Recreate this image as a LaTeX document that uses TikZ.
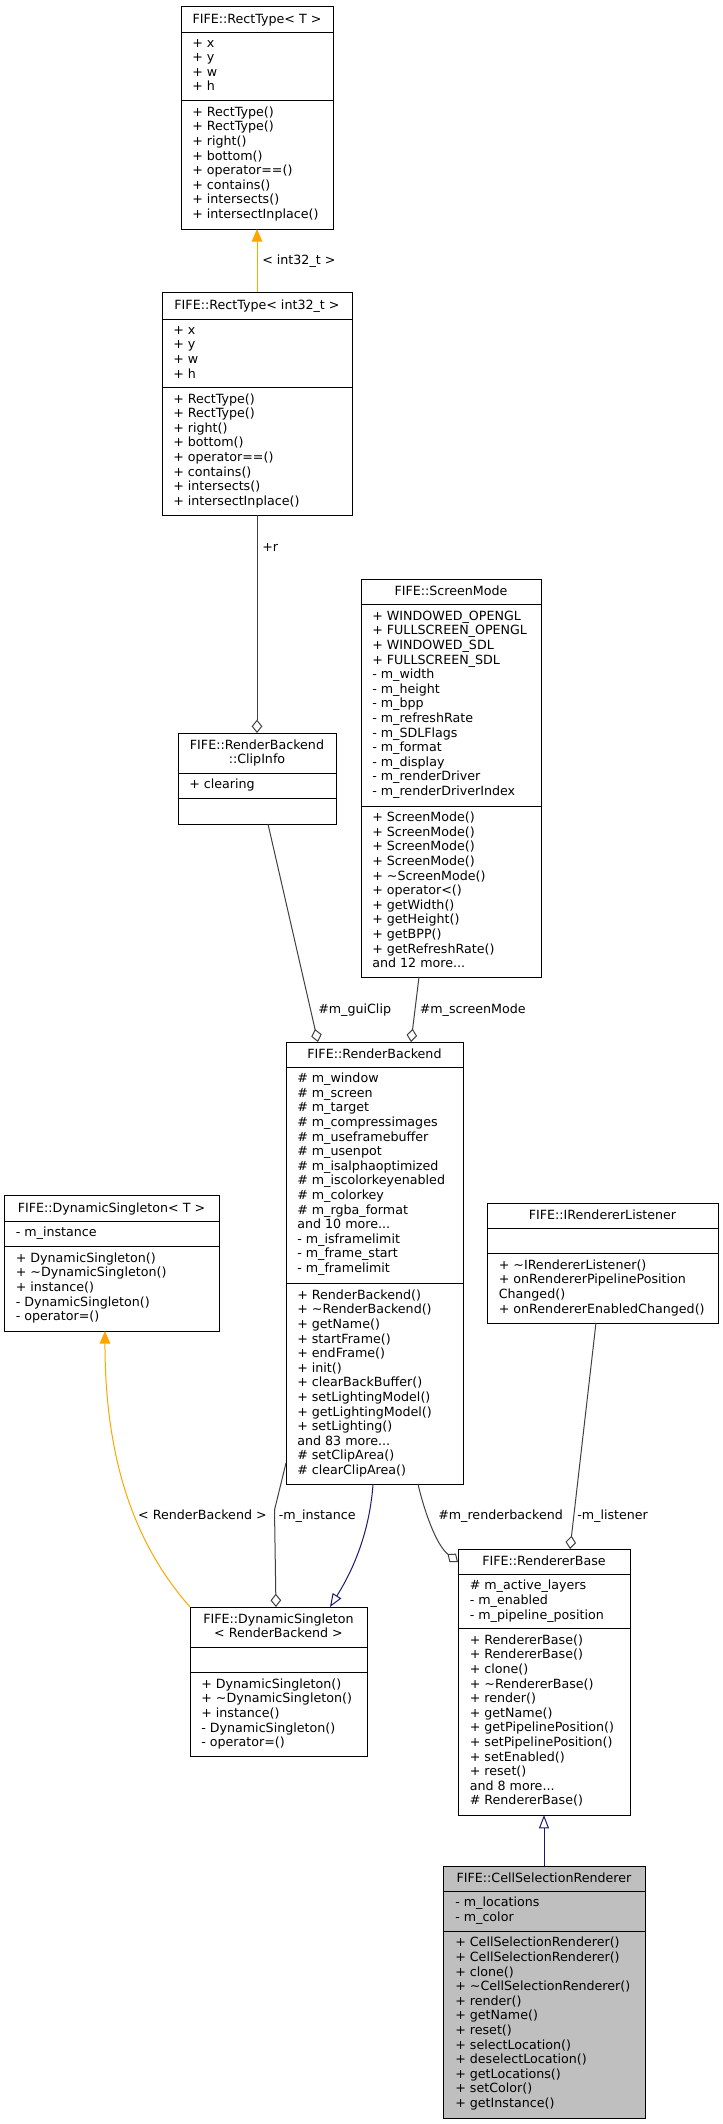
\documentclass[tikz,border=0pt]{standalone}
\usepackage{fontspec}
\setmainfont{DejaVu Sans}
\usetikzlibrary{arrows.meta}
\definecolor{edgegray}{HTML}{404040}
\definecolor{inhblue}{HTML}{191970}
\definecolor{tmplorange}{HTML}{FFA500}
\definecolor{cellgray}{HTML}{BFBFBF}
\newcommand\mydots{...}
% name, left, top, right, bottom, sep1, sep2, fill
\newcommand\umlbox[8]{%
  \node[box, fill=#8, minimum width={(#4-#2)*0.75pt}, minimum height={(#5-#3)*0.75pt}] (#1) at ({(#2+#4)/2},{(#3+#5)/2}) {};
  \draw[boxline] (#2,#6) -- (#4,#6);
  \draw[boxline] (#2,#7) -- (#4,#7);
}
% prefix, x, first centre y, list
\newcommand\umllines[4]{%
  \foreach \itm [count=\i from 0] in {#4} {\node[txt] (#1\i) at (#2,{#3+\i*14.6+4.3}) {\itm};}
}
\begin{document}
\begin{tikzpicture}[x=0.75pt,y=-0.75pt,
  box/.style={draw=black, line width=0.75pt, inner sep=0pt, outer sep=0pt, rectangle},
  boxline/.style={draw=black, line width=0.75pt},
  txt/.style={anchor=base west, inner sep=0pt, font=\fontsize{9.5pt}{11pt}\selectfont},
  ttl/.style={anchor=base, inner sep=0pt, font=\fontsize{9.5pt}{11pt}\selectfont},
  lbl/.style={anchor=base west, inner sep=0pt, font=\fontsize{9.5pt}{11pt}\selectfont},
  lble/.style={anchor=base east, inner sep=0pt, font=\fontsize{9.5pt}{11pt}\selectfont},
  agg/.style={draw=edgegray, line width=0.75pt, -{Diamond[open, length=10pt, width=8pt]}},
  inh/.style={draw=inhblue, line width=0.75pt, -{Triangle[open, length=10pt, width=7.5pt]}},
  tmpl/.style={draw=tmplorange, line width=0.75pt, -{Triangle[length=9.5pt, width=8pt, fill=tmplorange]}}
]
\useasboundingbox (0,0) rectangle (723,2124);

% ---------- A: RectType<T>
\umlbox{A}{181}{6}{333}{229}{32}{100}{white}
\node[ttl] (At) at (257,{19+4.3}) {FIFE::RectType< T >};
\umllines{Aa}{192}{42.7}{+ x, + y, + w, + h}
\umllines{Am}{192}{112}{+ RectType(), + RectType(), + right(), + bottom(), + operator==(), + contains(), + intersects(), + intersectInplace()}

% ---------- B: RectType<int32_t>
\umlbox{B}{162}{292}{352}{515}{319}{387}{white}
\node[ttl] (Bt) at (257,{305.5+4.3}) {FIFE::RectType< int32\_t >};
\umllines{Ba}{173}{330}{+ x, + y, + w, + h}
\umllines{Bm}{173}{398.8}{+ RectType(), + RectType(), + right(), + bottom(), + operator==(), + contains(), + intersects(), + intersectInplace()}

% ---------- C: ClipInfo
\umlbox{C}{178}{733}{336}{824}{773}{798}{white}
\node[ttl] (Ct1) at (257,{745+4.3}) {FIFE::RenderBackend};
\node[ttl] (Ct2) at (257,{759.5+4.3}) {::ClipInfo};
\umllines{Ca}{189}{784.3}{+ clearing}

% ---------- D: ScreenMode
\umlbox{D}{361}{579}{541}{977}{604}{806}{white}
\node[ttl] (Dt) at (451,{591.5+4.3}) {FIFE::ScreenMode};
\umllines{Da}{372}{616}{+ WINDOWED\_OPENGL, + FULLSCREEN\_OPENGL, + WINDOWED\_SDL, + FULLSCREEN\_SDL, - m\_width, - m\_height, - m\_bpp, - m\_refreshRate, - m\_SDLFlags, - m\_format, - m\_display, - m\_renderDriver, - m\_renderDriverIndex}
\umllines{Dm}{372}{817.3}{+ ScreenMode(), + ScreenMode(), + ScreenMode(), + ScreenMode(), + \textasciitilde ScreenMode(), + operator<(), + getWidth(), + getHeight(), + getBPP(), + getRefreshRate(), and 12 more\mydots}

% ---------- E: RenderBackend
\umlbox{E}{286}{1042}{463}{1484}{1067}{1283}{white}
\node[ttl] (Et) at (374.5,{1054.5+4.3}) {FIFE::RenderBackend};
\umllines{Ea}{297}{1078.3}{\# m\_window, \# m\_screen, \# m\_target, \# m\_compressimages, \# m\_useframebuffer, \# m\_usenpot, \# m\_isalphaoptimized, \# m\_iscolorkeyenabled, \# m\_colorkey, \# m\_rgba\_format, and 10 more\mydots, - m\_isframelimit, - m\_frame\_start, - m\_framelimit}
\umllines{Em}{297}{1295}{+ RenderBackend(), + \textasciitilde RenderBackend(), + getName(), + startFrame(), + endFrame(), + init(), + clearBackBuffer(), + setLightingModel(), + getLightingModel(), + setLighting(), and 83 more\mydots, \# setClipArea(), \# clearClipArea()}

% ---------- F: DynamicSingleton<T>
\umlbox{F}{4}{1195}{219}{1331}{1221}{1246}{white}
\node[ttl] (Ft) at (111.5,{1208+4.3}) {FIFE::DynamicSingleton< T >};
\umllines{Fa}{15.5}{1232.3}{- m\_instance}
\umllines{Fm}{15.5}{1258}{+ DynamicSingleton(), + \textasciitilde DynamicSingleton(), + instance(), - DynamicSingleton(), - operator=()}

% ---------- G: IRendererListener
\umlbox{G}{487}{1203}{718}{1323}{1228}{1253}{white}
\node[ttl] (Gt) at (602.5,{1215.5+4.3}) {FIFE::IRendererListener};
\umllines{Gm}{498.5}{1265}{+ \textasciitilde IRendererListener(), + onRendererPipelinePosition, Changed(), + onRendererEnabledChanged()}

% ---------- H: RendererBase
\umlbox{H}{458}{1549}{630}{1815}{1574}{1628}{white}
\node[ttl] (Ht) at (544,{1561.5+4.3}) {FIFE::RendererBase};
\umllines{Ha}{469.5}{1585.5}{\# m\_active\_layers, - m\_enabled, - m\_pipeline\_position}
\umllines{Hm}{469.5}{1640}{+ RendererBase(), + RendererBase(), + clone(), + \textasciitilde RendererBase(), + render(), + getName(), + getPipelinePosition(), + setPipelinePosition(), + setEnabled(), + reset(), and 8 more\mydots, \# RendererBase()}

% ---------- I: DynamicSingleton<RenderBackend>
\umlbox{I}{190}{1607}{367}{1756}{1647}{1672}{white}
\node[ttl] (It1) at (278.5,{1619+4.3}) {FIFE::DynamicSingleton};
\node[ttl] (It2) at (278.5,{1633.3+4.3}) {< RenderBackend >};
\umllines{Im}{201}{1684}{+ DynamicSingleton(), + \textasciitilde DynamicSingleton(), + instance(), - DynamicSingleton(), - operator=()}

% ---------- J: CellSelectionRenderer
\umlbox{J}{443}{1866}{645}{2118}{1891}{1931}{cellgray}
\node[ttl] (Jt) at (544,{1878.5+4.3}) {FIFE::CellSelectionRenderer};
\umllines{Ja}{455}{1902.3}{- m\_locations, - m\_color}
\umllines{Jm}{455}{1942.5}{+ CellSelectionRenderer(), + CellSelectionRenderer(), + clone(), + \textasciitilde CellSelectionRenderer(), + render(), + getName(), + reset(), + selectLocation(), + deselectLocation(), + getLocations(), + setColor(), + getInstance()}

% ---------- connectors
\draw[tmpl] (B.north) -- (A.south);
\node[lbl] (L1) at (262,{260+4.3}) {< int32\_t >};

\draw[agg] (B.south) -- (C.north);
\node[lbl] (L2) at (262,{547+4.3}) {+r};

\draw[agg] ([xshift=8.25pt]C.south) -- ([xshift=-42.4pt]E.north);
\node[lbl] (L3) at (318,{1009+4.3}) {\#m\_guiClip};

\draw[agg] ([xshift=-24pt]D.south) -- ([xshift=27.4pt]E.north);
\node[lbl] (L4) at (419.5,{1009+4.3}) {\#m\_screenMode};

\draw[tmpl] (I.north west) .. controls (140,1550) and (105,1470) .. ([xshift=-4.9pt]F.south);
\node[lble] (L5) at (267,{1515+4.3}) {< RenderBackend >};

\draw[agg] ([yshift=-150pt]E.west) -- (274.5,1510) -- ([xshift=-1.9pt]I.north);
\node[lbl] (L6) at (278.5,{1515+4.3}) {-m\_instance};

\draw[inh] ([xshift=-1.1pt]E.south) .. controls (369,1540) and (348,1578) .. ([xshift=38.6pt]I.north);

\draw[agg] ([xshift=32.6pt]E.south) .. controls (424,1510) and (436,1545) .. ([yshift=90pt]H.west);
\node[lbl] (L7) at (438,{1515+4.3}) {\#m\_renderbackend};

\draw[agg] ([xshift=-4.9pt]G.south) -- ([xshift=19.5pt]H.north);
\node[lbl] (L8) at (577,{1515+4.3}) {-m\_listener};

\draw[inh] (J.north) -- (H.south);
\end{tikzpicture}
\end{document}
